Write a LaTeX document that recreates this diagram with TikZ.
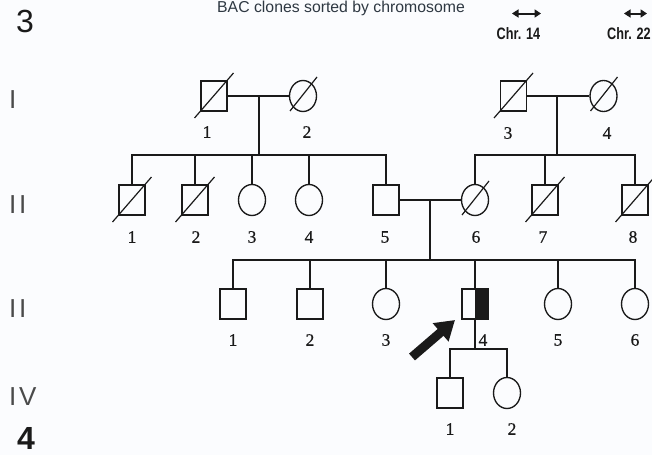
\documentclass[tikz,border=0pt]{standalone}
\usepackage{fontspec}
\setmainfont{Liberation Serif}
\newfontfamily\sansf{Liberation Sans}
\newfontfamily\genf[LetterSpace=10]{Liberation Sans}
\newfontfamily\numf[FakeBold=0.6]{Liberation Serif}
\usetikzlibrary{shapes.geometric,arrows.meta}

\definecolor{ink}{HTML}{1A1A1A}
\definecolor{bg}{HTML}{FBFCFE}
\definecolor{titlegray}{HTML}{2E3842}
\definecolor{gengray}{HTML}{4A4A4A}

\tikzset{
  male/.style={draw=ink, line width=1.35pt, rectangle, minimum width=26pt, minimum height=30pt, inner sep=0pt},
  female/.style={draw=ink, line width=1.35pt, ellipse, minimum width=27pt, minimum height=31pt, inner sep=0pt},
  idnum/.style={font=\numf\fontsize{17.5}{17.5}\selectfont, text=ink, inner sep=0pt},
  genlab/.style={font=\genf\fontsize{26}{26}\selectfont, text=gengray, anchor=west, inner sep=0pt},
  chrlab/.style={font=\sansf\bfseries\fontsize{16.5}{16.5}\selectfont, text=ink, inner sep=0pt},
  bigdigit/.style={font=\sansf\fontsize{32}{32}\selectfont, text=ink, inner sep=0pt},
  rel/.style={draw=ink, line width=1.35pt},
  deadsq/.style={draw=ink, line width=1.2pt},
  span/.style={draw=ink, line width=2pt, {Triangle[length=6.5pt,width=8pt]}-{Triangle[length=6.5pt,width=8pt]}},
}

\begin{document}
\begin{tikzpicture}[x=1pt,y=-1pt]
  % canvas
  \fill[bg] (0,0) rectangle (652,455);
  \useasboundingbox (0,0) rectangle (652,455);
  \clip (0,0) rectangle (652,455);

  % header
  \node[font=\sansf\fontsize{15.8}{15.8}\selectfont, text=titlegray, anchor=base west, inner sep=0pt]
    (title) at (217,12.5) {BAC clones sorted by chromosome};
  \coordinate (c14a) at (512,13.5); \coordinate (c14b) at (541,13.5);
  \draw[span] (c14a) -- (c14b);
  \node[chrlab] (chr14) at (518.5,34) {\scalebox{0.77}[1]{Chr. 14}};
  \coordinate (c22a) at (624,13.5); \coordinate (c22b) at (647,13.5);
  \draw[span] (c22a) -- (c22b);
  \node[chrlab] (chr22) at (629,34) {\scalebox{0.77}[1]{Chr. 22}};

  % panel numbers
  \node[bigdigit] (panel3) at (25,21.5) {3};
  \node[bigdigit, font=\sansf\bfseries\fontsize{32}{32}\selectfont] (panel4) at (26,438.5) {4};

  % generation labels
  \node[genlab] (genI)   at (9,100) {I};
  \node[genlab] (genII)  at (9,205) {II};
  \node[genlab] (genIII) at (9,309) {II};
  \node[genlab] (genIV)  at (9,397) {IV};

  % ---------- generation I ----------
  \node[male]   (I1) at (214,96) {};
  \node[female] (I2) at (303,96) {};
  \node[male]   (I3) at (513.5,96) {};
  \node[female] (I4) at (603.5,96) {};

  % ---------- generation II ----------
  \node[male]   (II1) at (132,200) {};
  \node[male]   (II2) at (195,200) {};
  \node[female] (II3) at (252,200) {};
  \node[female] (II4) at (309,200) {};
  \node[male]   (II5) at (386,200) {};
  \node[female] (II6) at (475,200) {};
  \node[male]   (II7) at (545,200) {};
  \node[male]   (II8) at (635,200) {};

  % ---------- generation III ----------
  \node[male]   (III1) at (233,304) {};
  \node[male]   (III2) at (310,304) {};
  \node[female] (III3) at (386,304) {};
  \node[male]   (III4) at (475,304) {};
  \node[female] (III5) at (558,304) {};
  \node[female] (III6) at (635,304) {};
  % affected half
  \fill[ink] (III4.north) rectangle (III4.south east);

  % ---------- generation IV ----------
  \node[male]   (IV1) at (450,393) {};
  \node[female] (IV2) at (507,393) {};

  % deceased marks
  \foreach \p in {I1,I3,II1,II2,II7,II8}
    \draw[deadsq] (\p.center) ++(-19.5,22) -- ++(39,-45);
  \foreach \p in {I2,I4,II6}
    \draw[deadsq] (\p.center) ++(-13,15) -- ++(27,-34);

  % helper levels
  \coordinate (sibII)  at (0,155);
  \coordinate (sibIII) at (0,260);
  \coordinate (sibIV)  at (0,349);
  \coordinate (dropL)  at (259,96);
  \coordinate (dropR)  at (557,96);
  \coordinate (dropM)  at (430,200);

  % left family of generation I
  \draw[rel] (I1.east) -- (I2.west);
  \draw[rel] (dropL) -- (dropL |- sibII);
  \draw[rel] (II1.north) -- (II1.north |- sibII) -- (II5.north |- sibII) -- (II5.north);
  \foreach \c in {II2,II3,II4}
    \draw[rel] (\c.north) -- (\c.north |- sibII);

  % right family of generation I
  \draw[rel] (I3.east) -- (I4.west);
  \draw[rel] (dropR) -- (dropR |- sibII);
  \draw[rel] (II6.north) -- (II6.north |- sibII) -- (II8.north |- sibII) -- (II8.north);
  \draw[rel] (II7.north) -- (II7.north |- sibII);

  % couple II-5 x II-6
  \draw[rel] (II5.east) -- (II6.west);
  \draw[rel] (dropM) -- (dropM |- sibIII);
  \draw[rel] (III1.north) -- (III1.north |- sibIII) -- (III6.north |- sibIII) -- (III6.north);
  \foreach \c in {III2,III3,III4,III5}
    \draw[rel] (\c.north) -- (\c.north |- sibIII);

  % offspring of III-4
  \draw[rel] (III4.south) -- (III4.south |- sibIV);
  \draw[rel] (IV1.north) -- (IV1.north |- sibIV) -- (IV2.north |- sibIV) -- (IV2.north);

  % proband arrow
  \coordinate (arrTail) at (412,357);
  \coordinate (arrTip)  at (455,320);
  \draw[ink, line width=9pt, -{Triangle[length=19pt,width=23pt]}] (arrTail) -- (arrTip);

  % individual numbers
  \node[idnum] (nI1) at (207,132) {1};
  \node[idnum] (nI2) at (307,132) {2};
  \node[idnum] (nI3) at (508,133) {3};
  \node[idnum] (nI4) at (607,133) {4};

  \node[idnum] (nII1) at (132,237) {1};
  \node[idnum] (nII2) at (196,237) {2};
  \node[idnum] (nII3) at (252,237) {3};
  \node[idnum] (nII4) at (309,237) {4};
  \node[idnum] (nII5) at (385,237) {5};
  \node[idnum] (nII6) at (476,237) {6};
  \node[idnum] (nII7) at (543,237) {7};
  \node[idnum] (nII8) at (633,237) {8};

  \node[idnum] (nIII1) at (233,340) {1};
  \node[idnum] (nIII2) at (310,340) {2};
  \node[idnum] (nIII3) at (386,340) {3};
  \node[idnum] (nIII4) at (483,340) {4};
  \node[idnum] (nIII5) at (558,340) {5};
  \node[idnum] (nIII6) at (635,340) {6};

  \node[idnum] (nIV1) at (450,429) {1};
  \node[idnum] (nIV2) at (512,429) {2};
\end{tikzpicture}
\end{document}
